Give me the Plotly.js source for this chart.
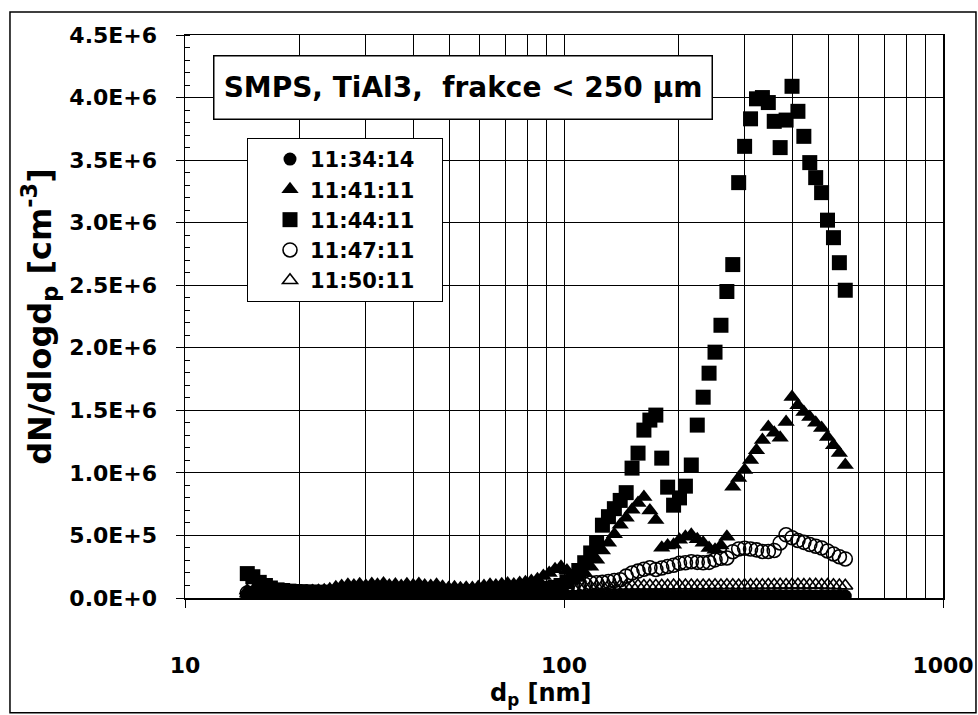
<!DOCTYPE html>
<html>
<head>
<meta charset="utf-8">
<script src="https://cdn.plot.ly/plotly-3.0.1.min.js"></script>
<style>
  html, body { margin: 0; padding: 0; background: #fff; }
  #chart { width: 978px; height: 715px; }
</style>
</head>
<body>
<div id="chart"></div>
<script>
// particle diameter channels [nm]
const diameters = [
  14.6, 15.1, 15.7, 16.3, 16.8, 17.5, 18.1, 18.8, 19.5, 20.2,
  20.9, 21.7, 22.5, 23.3, 24.1, 25.0, 25.9, 26.9, 27.9, 28.9,
  30.0, 31.1, 32.2, 33.4, 34.6, 35.9, 37.2, 38.5, 40.0, 41.4,
  42.9, 44.5, 46.1, 47.8, 49.6, 51.4, 53.3, 55.2, 57.3, 59.4,
  61.5, 63.8, 66.1, 68.5, 71.0, 73.7, 76.4, 79.1, 82.0, 85.1,
  88.2, 91.4, 94.7, 98.2, 101.8, 105.5, 109.4, 113.4, 117.6, 121.9,
  126.3, 131.0, 135.8, 140.7, 145.9, 151.2, 156.8, 162.5, 168.5, 174.7,
  181.1, 187.7, 194.6, 201.7, 209.1, 216.7, 224.7, 232.9, 241.4, 250.3,
  259.5, 269.0, 278.8, 289.0, 299.6, 310.6, 322.0, 333.8, 346.0, 358.7,
  371.8, 385.5, 399.6, 414.2, 429.4, 445.1, 461.4, 478.3, 495.8, 514.0,
  532.8, 552.3
];

// dN/dlogdp values in thousands of cm^-3
const s_113414 = [
  20, 16, 14, 12, 12, 11, 11, 10, 10, 10,
  9, 10, 9, 10, 9, 10, 9, 8, 9, 10,
  9, 10, 9, 8, 9, 10, 9, 10, 9, 9,
  10, 9, 10, 9, 10, 11, 10, 11, 10, 11,
  11, 12, 11, 12, 12, 13, 12, 13, 13, 14,
  14, 15, 14, 15, 15, 16, 15, 16, 16, 17,
  16, 17, 16, 17, 17, 18, 17, 18, 17, 18,
  18, 17, 18, 18, 17, 18, 19, 18, 19, 18,
  19, 18, 19, 20, 19, 20, 19, 20, 19, 20,
  20, 19, 20, 19, 20, 19, 18, 19, 18, 17,
  17, 16
];
const s_114111 = [
  60, 55, 50, 45, 42, 40, 42, 45, 48, 50,
  52, 55, 58, 62, 70, 85, 95, 105, 100, 110,
  98, 112, 105, 115, 100, 108, 96, 110, 102, 112,
  100, 95, 105, 90, 80, 85, 78, 82, 80, 88,
  95, 105, 100, 110, 115, 108, 120, 125, 135, 150,
  175, 200, 230, 250, 220, 180, 160, 200, 250, 306,
  380, 441, 510, 585, 641, 705, 760, 808, 700, 624,
  402, 420, 426, 466, 490, 506, 470, 442, 400, 386,
  420, 490, 890, 960, 1023, 1103, 1180, 1263, 1367, 1320,
  1280, 1406, 1606, 1540, 1486, 1446, 1400, 1358, 1286, 1220,
  1158, 1063
];
const s_114411 = [
  195, 170, 125, 100, 80, 65, 60, 55, 52, 50,
  48, 47, 46, 45, 46, 44, 45, 46, 44, 45,
  46, 45, 44, 46, 47, 45, 44, 46, 45, 47,
  46, 45, 44, 46, 45, 47, 46, 48, 47, 49,
  50, 52, 54, 56, 55, 58, 60, 62, 65, 68,
  72, 78, 85, 100, 130, 170, 220, 282, 360, 436,
  582, 650, 714, 780, 842, 1038, 1158, 1342, 1422, 1462,
  1118, 886, 742, 800, 894, 1063, 1382, 1605, 1797, 1965,
  2180, 2450, 2665, 3320, 3610, 3830, 3990, 4000, 3960, 3810,
  3600, 3820, 4090, 3890, 3690, 3480, 3360, 3240, 3020, 2880,
  2680, 2460
];
const s_114711 = [
  40, 32, 28, 25, 24, 22, 22, 21, 20, 20,
  20, 21, 20, 22, 21, 20, 22, 21, 22, 20,
  21, 22, 21, 20, 22, 21, 22, 23, 22, 21,
  22, 23, 22, 24, 23, 25, 24, 26, 25, 27,
  28, 30, 32, 34, 36, 40, 42, 46, 50, 55,
  60, 65, 70, 75, 80, 90, 100, 110, 120, 122,
  125, 132, 140, 146, 175, 200, 215, 230, 242, 228,
  240, 252, 262, 278, 282, 290, 285, 282, 285, 305,
  318, 320, 370, 392, 398, 392, 385, 372, 372, 380,
  440, 505, 482, 460, 445, 428, 414, 400, 376, 352,
  330, 312
];
const s_115011 = [
  35, 28, 24, 22, 20, 19, 18, 18, 17, 17,
  16, 17, 16, 17, 16, 18, 17, 16, 17, 18,
  17, 18, 17, 16, 18, 17, 18, 19, 18, 19,
  20, 19, 21, 20, 22, 21, 23, 22, 24, 25,
  26, 28, 30, 32, 35, 38, 42, 46, 50, 55,
  60, 64, 68, 72, 76, 80, 84, 86, 88, 90,
  92, 93, 94, 95, 96, 95, 97, 96, 98, 97,
  98, 97, 99, 98, 100, 99, 98, 100, 99, 101,
  100, 102, 101, 100, 102, 101, 103, 102, 104, 103,
  105, 104, 106, 105, 104, 106, 105, 104, 103, 102,
  100, 98
];
const UNIT = 1000;

const seriesNames = ['11:34:14', '11:41:11', '11:44:11', '11:47:11', '11:50:11'];
const seriesValues = [s_113414, s_114111, s_114411, s_114711, s_115011];

const yTickVals = [0, 5e5, 1e6, 1.5e6, 2e6, 2.5e6, 3e6, 3.5e6, 4e6, 4.5e6];
const yTickText = ['0.0E+0', '5.0E+5', '1.0E+6', '1.5E+6', '2.0E+6', '2.5E+6', '3.0E+6', '3.5E+6', '4.0E+6', '4.5E+6'];
const xTickVals = [10, 100, 1000];
const xTickText = ['10', '100', '1000'];

const markerStyles = [
  { symbol: 'circle', size: 13, color: '#000' },
  { symbol: 'triangle-up', size: 15, color: '#000' },
  { symbol: 'square', size: 15, color: '#000' },
  { symbol: 'circle-open', size: 14, color: '#000', line: { color: '#000', width: 1.6 } },
  { symbol: 'triangle-up-open', size: 13, color: '#000', line: { color: '#000', width: 1.6 } }
];

const FONT = 'DejaVu Sans, Arial, sans-serif';
const PAD = '\u00a0\u00a0\u00a0';

const traces = seriesNames.map((name, k) => ({
  type: 'scatter',
  mode: 'markers',
  name: name + PAD,
  x: diameters,
  y: seriesValues[k].map(v => v * UNIT),
  marker: markerStyles[k],
  cliponaxis: true
}));

const layout = {
  width: 978,
  height: 715,
  margin: { l: 185, r: 35, t: 35, b: 117 },
  paper_bgcolor: '#fff',
  plot_bgcolor: '#fff',
  showlegend: true,
  font: { family: FONT, size: 20, color: '#000', weight: 'bold' },
  xaxis: {
    type: 'log',
    range: [1, 3],
    tickvals: xTickVals,
    ticktext: xTickText,
    ticks: 'outside',
    ticklen: 8,
    tickwidth: 1,
    tickcolor: '#000',
    ticklabelstandoff: 39,
    tickfont: { family: FONT, size: 22, color: '#000', weight: 'bold' },
    showline: true,
    linecolor: '#000',
    linewidth: 1.5,
    mirror: true,
    showgrid: true,
    gridcolor: '#000',
    gridwidth: 1,
    zeroline: false,
    minor: { dtick: 'D1', showgrid: true, gridcolor: '#000', gridwidth: 1, ticks: '' }
  },
  yaxis: {
    range: [0, 4.5e6],
    tickvals: yTickVals,
    ticktext: yTickText,
    ticks: 'outside',
    ticklen: 8,
    tickwidth: 1,
    tickcolor: '#000',
    ticklabelstandoff: 14,
    tickfont: { family: FONT, size: 22, color: '#000', weight: 'bold' },
    showline: true,
    linecolor: '#000',
    linewidth: 1.5,
    mirror: true,
    showgrid: true,
    gridcolor: '#000',
    gridwidth: 1,
    zeroline: false,
    minor: { dtick: 1e5, ticks: 'inside', ticklen: 5, tickcolor: '#000', showgrid: false },
    title: {
      text: 'dN/dlogd<sub>p</sub> [cm<sup>-3</sup>]',
      font: { family: FONT, size: 32, color: '#000', weight: 'bold' },
      standoff: 8
    }
  },
  legend: {
    x: 0.0818,
    y: 0.8172,
    xanchor: 'left',
    yanchor: 'top',
    bgcolor: '#fff',
    bordercolor: '#000',
    borderwidth: 1,
    font: { family: FONT, size: 21, color: '#000', weight: 'bold' },
    indentation: 22,
    itemwidth: 30
  },
  annotations: [
    {
      xref: 'paper', yref: 'paper',
      x: 0.3674, y: 0.906,
      xanchor: 'center', yanchor: 'middle',
      text: 'SMPS, TiAl3,  frakce &lt; 250 µm',
      showarrow: false,
      font: { family: FONT, size: 28, color: '#000', weight: 'bold' },
      bgcolor: '#fff',
      bordercolor: '#000',
      borderwidth: 1.5,
      borderpad: 1,
      width: 495,
      height: 60
    },
    {
      xref: 'paper', yref: 'paper',
      x: 0.4697, y: -0.172,
      xanchor: 'center', yanchor: 'middle',
      text: 'd<sub>p</sub> [nm]',
      showarrow: false,
      font: { family: FONT, size: 24, color: '#000', weight: 'bold' }
    }
  ],
  shapes: [
    {
      type: 'rect', xref: 'paper', yref: 'paper',
      x0: -0.2309, x1: 1.0435, y0: -0.2036, y1: 1.0408,
      line: { color: '#000', width: 1.5 },
      fillcolor: 'rgba(0,0,0,0)',
      layer: 'above'
    }
  ]
};

Plotly.newPlot('chart', traces, layout, { displayModeBar: false, staticPlot: true });
</script>
</body>
</html>
